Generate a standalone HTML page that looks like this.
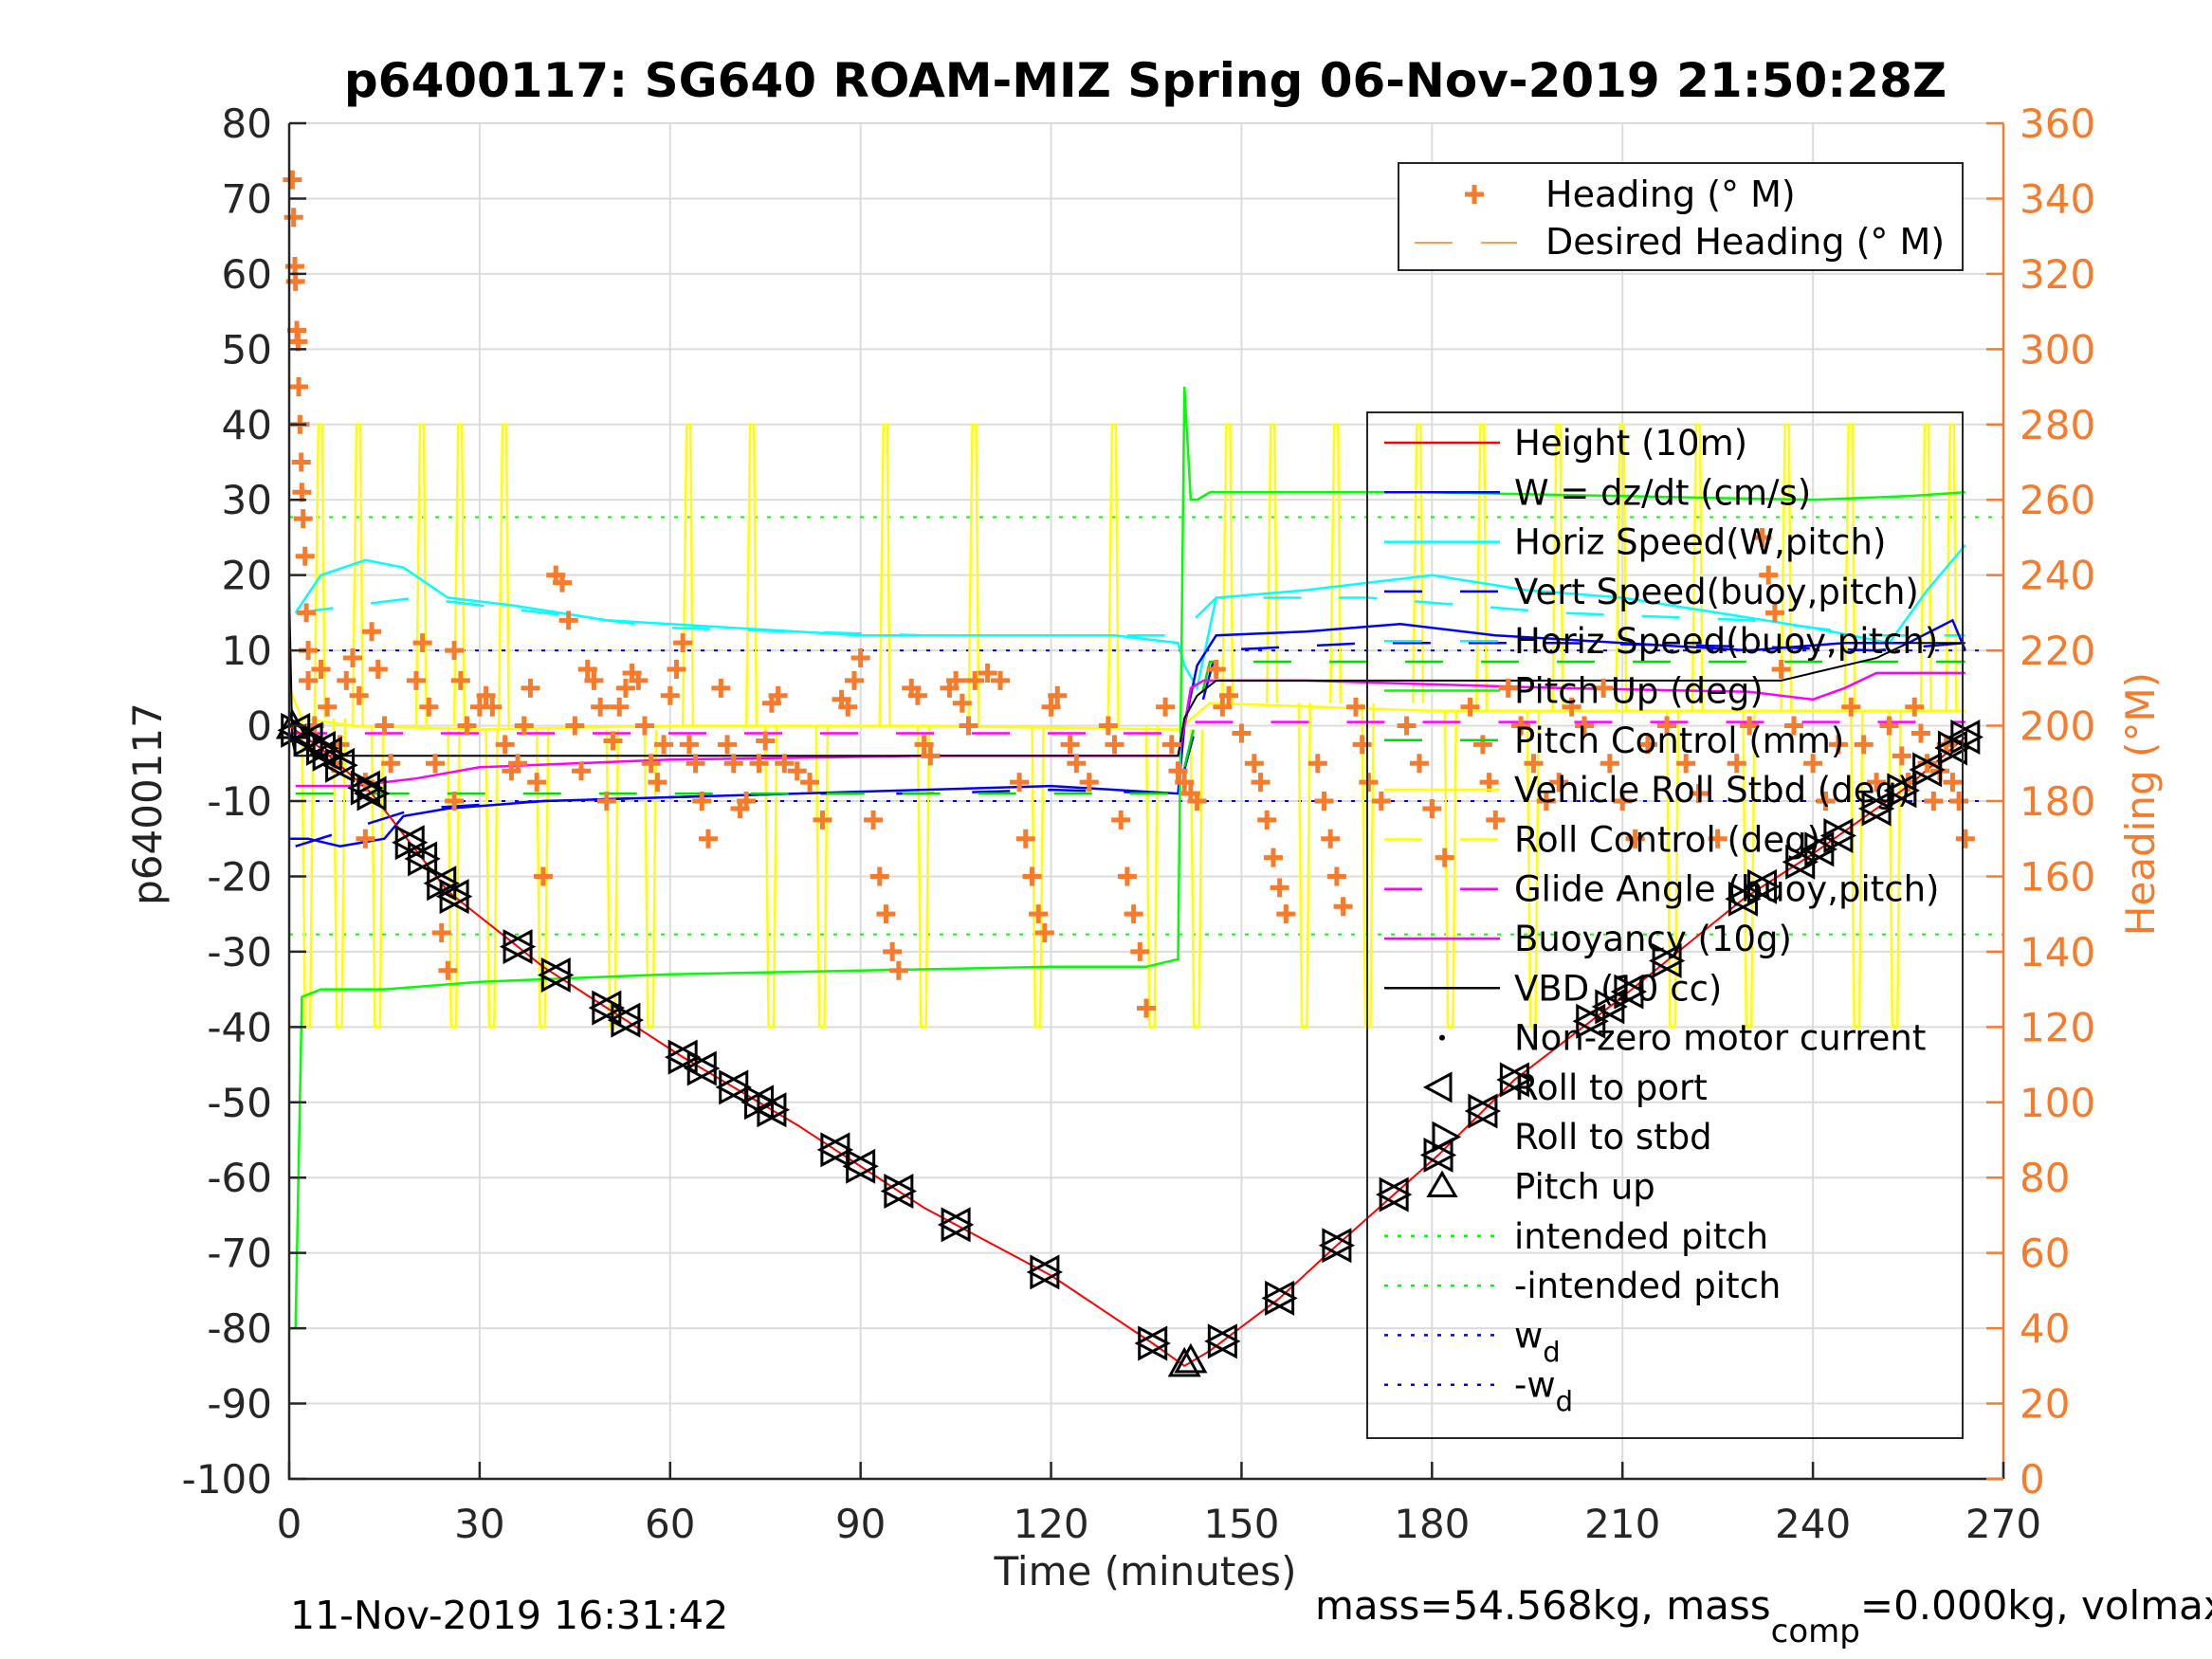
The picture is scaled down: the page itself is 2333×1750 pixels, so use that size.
<!DOCTYPE html>
<html><head><meta charset="utf-8"><style>
html,body{margin:0;padding:0;background:#fff;overflow:hidden;}
svg{display:block;font-family:"DejaVu Sans","Liberation Sans",sans-serif;}
</style></head><body>
<svg id="chart" width="2333" height="1750" viewBox="0 0 2333 1750" xmlns="http://www.w3.org/2000/svg">
<rect width="2333" height="1750" fill="#fff"/>
<g id="grid"></g>
<g id="plot"></g>
<g id="axes"></g>
<text x="1208" y="102" font-size="50" font-weight="bold" text-anchor="middle" fill="#000">p6400117: SG640 ROAM-MIZ Spring 06-Nov-2019 21:50:28Z</text>
<text x="0" y="0" font-size="42" text-anchor="middle" transform="translate(170,848) rotate(-90)" fill="#222">p6400117</text>
<text x="0" y="0" font-size="42" text-anchor="middle" transform="translate(2272,848) rotate(-90)" fill="#f77b2a">Heading (°M)</text>
<text x="1208" y="1672" font-size="42" text-anchor="middle" fill="#222">Time (minutes)</text>
<text x="306" y="1718" font-size="41" fill="#000">11-Nov-2019 16:31:42</text>
<text x="1387" y="1708" font-size="42" fill="#000">mass=54.568kg, mass<tspan dy="24" font-size="34">comp</tspan><tspan dy="-24">=0.000kg, volmax=52345cc</tspan></text>
<g id="legend1"></g>
<g id="legend2"></g>
</svg>
<script>
const NS="http://www.w3.org/2000/svg";
// ---- data ----
const xTicks=[0,30,60,90,120,150,180,210,240,270];
const yTicks=[80,70,60,50,40,30,20,10,0,-10,-20,-30,-40,-50,-60,-70,-80,-90,-100];
const rTicks=[360,340,320,300,280,260,240,220,200,180,160,140,120,100,80,60,40,20,0];
const heightT=[0,5,13,25,40,62,80,100,120,136,141,145,156,165,181,193,210,229,240,255,264];
const heightV=[0,-3,-9,-22,-32,-44,-53,-64,-73,-82,-85,-83,-76,-69,-57,-47,-36,-23,-17,-8,-1.5];
const markerT=[1,3,5,6,8,12,13,19,21,24,26,36,42,50,53,62,65,70,74,76,86,90,96,105,119,136,147,156,165,174,181,188,193,205,208,211,217,229,232,238,241,244,250,254,258,262,264];
const pitchUpT=[0.5,141,142];
const wT=[0,3,8,15,18,25,40,60,80,100,120,130,140,141,143,146,160,175,190,210,230,245,255,262,264];
const wV=[-15,-15,-16,-15,-12,-11,-10,-9.5,-9,-8.5,-8,-8.5,-9,0,8,12,12.5,13.5,12,11,10,11,11,14,10];
const hsT=[1,5,12,18,25,35,50,70,90,110,130,140,141,143,146,160,170,180,195,210,225,240,252,258,264];
const hsV=[15,20,22,21,17,16,14,13,12,12,12,11,8,5,17,18,19,20,18,17,15,13,11,18,24];
const vbT=[1,20,40,60,80,100,120,140,146,170,200,230,250,264];
const vbV=[-16,-11,-10,-9.5,-9,-9,-8.5,-9,10,11,11,10.5,10,11];
const hbT=[1,20,40,60,80,100,120,140,146,170,200,230,250,264];
const hbV=[15,17,15,13,12.5,12,12,12,17,17,15,14,12,12];
const pitchT=[1,2,5,15,30,60,90,120,135,140,141,142,143,145,150,180,210,240,255,264];
const pitchV=[-80,-36,-35,-35,-34,-33,-32.5,-32,-32,-31,45,30,30,31,31,31,30.5,30,30.5,31];
const pcT=[1,140,145,264];
const pcV=[-9,-9,8.5,8.5];
const rollT=[0,2,10,30,60,100,140,145,180,220,264];
const rollV=[5,1,0,-0.5,0,0,-0.5,3,2,2,2];
const spikeUpT=[5,11,21,27,34,63,73,94,108,130,148,155,165,178,188,200,210,222,236,246,258,262];
const spikeDnT=[3,8,14,26,32,40,51,57,76,84,100,118,136,143,160,170,183,196,218,230,247,253];
const glideT=[0,140,142,264];
const glideV=[-1,-1,0.5,0.5];
const buoyT=[1,10,15,20,30,45,60,100,140,141,142,144,160,200,230,240,245,250,264];
const buoyV=[-8,-8,-7.5,-7,-5.5,-5,-4.5,-4,-4,0,5,6,6,5,4.5,3.5,5,7,7];
const vbdT=[0,0.5,1,140,141,143,146,235,240,250,255,264];
const vbdV=[18,-2,-4,-4,1,4,6,6,7,9,11,11];
const headT=[0.5,0.7,0.9,1,1.2,1.4,1.5,1.7,1.9,2,2.2,2.5,2.7,3,3,4,5,6,7,8,9,10,11,12,12,13,14,15,16,20,21,22,23,24,25,26,26,27,28,30,31,32,34,35,36,37,38,39,40,42,43,44,45,46,47,48,49,50,51,52,53,54,55,56,57,58,59,60,61,62,63,64,65,66,68,69,70,71,72,74,75,76,77,78,80,82,84,87,88,89,90,92,93,94,95,96,98,99,100,101,104,105,106,107,108,110,112,115,116,117,118,119,120,121,123,124,126,129,130,131,132,133,134,135,138,139,140,141,142,143,146,147,148,150,152,153,154,155,156,157,162,163,164,165,166,168,169,170,172,176,178,180,182,186,188,189,190,192,194,196,198,200,202,204,207,208,210,212,214,217,220,222,225,228,230,232,233,234,235,237,240,242,244,246,248,250,252,254,255,256,257,258,259,260,261,262,263,264];
const headV=[345,335,322,318,305,302,290,280,270,262,255,245,230,220,212,200,215,205,190,195,212,218,208,185,170,225,215,200,190,212,222,205,190,145,135,180,220,212,200,205,208,205,195,188,190,200,210,185,160,240,238,228,200,188,215,212,205,180,196,205,210,214,212,200,190,185,195,208,215,222,195,190,180,170,210,195,190,178,180,190,196,206,208,190,188,185,175,207,205,212,218,175,160,150,140,135,210,208,195,192,210,212,206,200,212,214,212,185,170,160,150,145,205,208,195,190,185,200,195,175,160,150,140,125,205,195,188,185,182,180,215,205,208,198,190,185,175,165,157,150,190,180,170,160,152,205,195,185,180,200,190,178,165,205,195,185,175,210,200,190,180,185,205,200,210,190,180,170,195,200,190,182,170,190,200,250,240,230,215,200,190,180,195,205,195,185,200,192,185,205,198,190,180,188,195,185,180,170];
// ---- scales ----
const X0=305,X1=2113,Y0=130,Y1=1560;
const sx=t=>X0+t*(X1-X0)/270;
const sy=v=>Y0+(80-v)*(Y1-Y0)/180;
const sr=h=>Y0+(360-h)*(Y1-Y0)/360;
function mk(tag,attrs,parent){const e=document.createElementNS(NS,tag);for(const k in attrs)e.setAttribute(k,attrs[k]);parent.appendChild(e);return e;}
const grid=document.getElementById('grid'),plot=document.getElementById('plot'),axes=document.getElementById('axes');
xTicks.forEach(t=>{const l=mk('line',{x1:sx(t),x2:sx(t),y1:Y0,y2:Y1,stroke:'#dcdcdc','stroke-width':2},grid);
});
yTicks.forEach(v=>{const l=mk('line',{x1:X0,x2:X1,y1:sy(v),y2:sy(v),stroke:'#dcdcdc','stroke-width':2},grid);
});
function line(T,V,color,w,dash,name,f){const d=T.map((t,i)=>(i?'L':'M')+sx(t).toFixed(1)+','+(f||sy)(V[i]).toFixed(1)).join('');
const p=mk('path',{d:d,fill:'none',stroke:color,'stroke-width':w},plot);if(dash)p.setAttribute('stroke-dasharray',dash);
return p;}
[[27.7,'#00ff00','intended-pitch-line'],[-27.7,'#00ff00','neg-intended-pitch-line'],[10,'#0000ff','wd-line'],[-10,'#0000ff','neg-wd-line']].forEach(r=>{
const l=mk('line',{x1:X0,x2:X1,y1:sy(r[0]),y2:sy(r[0]),stroke:r[1],'stroke-width':2,'stroke-dasharray':'4 10'},plot);
});
function rollBase(t){let i=0;while(i<rollT.length-2&&rollT[i+1]<t)i++;return rollV[i];}
spikeUpT.forEach(t=>{const b=rollBase(t);const d=`M${sx(t-1)},${sy(b)}L${sx(t-0.4)},${sy(40)}L${sx(t+0.2)},${sy(40)}L${sx(t+0.6)},${sy(b)}`;
const p=mk('path',{d:d,fill:'none',stroke:'#ffff00','stroke-width':2.5},plot);});
spikeDnT.forEach(t=>{const b=rollBase(t);const d=`M${sx(t-1)},${sy(b)}L${sx(t-0.5)},${sy(-40)}L${sx(t+0.3)},${sy(-40)}L${sx(t+0.8)},${sy(b)}`;
const p=mk('path',{d:d,fill:'none',stroke:'#ffff00','stroke-width':2.5},plot);});
line(rollT,rollV,'#ffff00',2.5,null,'vehicle-roll-line');
line(hsT,hsV,'#00ffff',2.5,null,'horiz-speed-w-line');
line(hbT,hbV,'#00ffff',2.5,'40 40','horiz-speed-buoy-line');
line(vbT,vbV,'#0000ff',2.5,'40 40','vert-speed-buoy-line');
line(wT,wV,'#0000ff',2.5,null,'w-line');
line(pcT,pcV,'#00dd00',2.5,'40 40','pitch-control-line');
line(pitchT,pitchV,'#00ff00',2.5,null,'pitch-line');
line(glideT,glideV,'#ff00ff',2.5,'40 40','glide-angle-line');
line(buoyT,buoyV,'#ff00ff',2.5,null,'buoyancy-line');
line(vbdT,vbdV,'#000000',2,null,'vbd-line');
line(heightT,heightV,'#ff0000',2,null,'height-line');
headT.forEach((t,i)=>{const x=sx(t),y=sr(headV[i]);
const p=mk('path',{d:`M${x-10},${y}H${x+10}M${x},${y-10}V${y+10}`,stroke:'#f77b2a','stroke-width':5},plot);
});
function hAt(t){for(let i=0;i<heightT.length-1;i++){if(t<=heightT[i+1]){const f=(t-heightT[i])/(heightT[i+1]-heightT[i]);return heightV[i]+f*(heightV[i+1]-heightV[i]);}}return heightV[heightV.length-1];}
markerT.forEach(t=>{const x=sx(t),y=sy(hAt(t));
const p=mk('path',{d:`M${x+14},${y-16}L${x-16},${y}L${x+14},${y+16}ZM${x-14},${y-16}L${x+16},${y}L${x-14},${y+16}Z`,fill:'none',stroke:'#000','stroke-width':3},plot);
});
pitchUpT.forEach(t=>{const x=sx(t),y=sy(hAt(t));
const p=mk('path',{d:`M${x},${y-17}L${x-15},${y+10}L${x+15},${y+10}Z`,fill:'none',stroke:'#000','stroke-width':3},plot);
});
const ab=mk('path',{d:`M${X0},${Y0}V${Y1}H${X1}`,fill:'none',stroke:'#262626','stroke-width':2.5},axes);
const ar=mk('line',{x1:X1,x2:X1,y1:Y0,y2:Y1,stroke:'#f77b2a','stroke-width':2.5},axes);
xTicks.forEach(t=>{const l=mk('line',{x1:sx(t),x2:sx(t),y1:Y1,y2:Y1-18,stroke:'#262626','stroke-width':2.5},axes);
const tx=mk('text',{x:sx(t),y:Y1+62,'font-size':42,'text-anchor':'middle',fill:'#262626'},axes);tx.textContent=t;});
yTicks.forEach(v=>{const l=mk('line',{x1:X0,x2:X0+18,y1:sy(v),y2:sy(v),stroke:'#262626','stroke-width':2.5},axes);
const tx=mk('text',{x:287,y:sy(v)+15,'font-size':42,'text-anchor':'end',fill:'#262626'},axes);tx.textContent=v;});
rTicks.forEach(h=>{const l=mk('line',{x1:X1,x2:X1-18,y1:sr(h),y2:sr(h),stroke:'#f77b2a','stroke-width':2.5},axes);
const tx=mk('text',{x:2130,y:sr(h)+15,'font-size':42,'text-anchor':'start',fill:'#f77b2a'},axes);tx.textContent=h;});
const L1=document.getElementById('legend1');
const b1=mk('rect',{x:1475,y:172,width:595,height:113,fill:'#fff',stroke:'#262626','stroke-width':2},L1);
const hm=mk('path',{d:'M1545,205H1565M1555,195V215',stroke:'#f77b2a','stroke-width':5},L1);
const dh=mk('line',{x1:1492,x2:1600,y1:256,y2:256,stroke:'#f7a060','stroke-width':2,'stroke-dasharray':'40 30'},L1);
[['Heading (° M)',218],['Desired Heading (° M)',268]].forEach(a=>{const t=mk('text',{x:1630,y:a[1],'font-size':38,fill:'#000'},L1);t.textContent=a[0];});
const L2=document.getElementById('legend2');
const b2=mk('rect',{x:1442,y:435,width:628,height:1082,fill:'none',stroke:'#262626','stroke-width':2},L2);
const entries=[['Height (10m)','#ff0000',null],['W = dz/dt (cm/s)','#0000ff',null],['Horiz Speed(W,pitch)','#00ffff',null],['Vert Speed(buoy,pitch)','#0000ff','40 40'],['Horiz Speed(buoy,pitch)','#00ffff','40 40'],['Pitch Up (deg)','#00ff00',null],['Pitch Control (mm)','#00dd00','40 40'],['Vehicle Roll Stbd (deg)','#ffff00',null],['Roll Control (deg)','#ffff00','40 40'],['Glide Angle (buoy,pitch)','#ff00ff','40 40'],['Buoyancy (10g)','#ff00ff',null],['VBD (10 cc)','#000000',null],['Non-zero motor current','dot',null],['Roll to port','port',null],['Roll to stbd','stbd',null],['Pitch up','up',null],['intended pitch','#00ff00','4 10'],['-intended pitch','#00ff00','4 10'],['w','#0000ff','4 10'],['-w','#0000ff','4 10']];
entries.forEach((e,i)=>{const y=467+i*52.3;
if(e[1]==='dot'){const c=mk('circle',{cx:1521,cy:y,r:3,fill:'#000'},L2);}
else if(e[1]==='port'){const p=mk('path',{d:`M1530,${y-14}L1504,${y}L1530,${y+14}Z`,fill:'none',stroke:'#000','stroke-width':3},L2);}
else if(e[1]==='stbd'){const p=mk('path',{d:`M1512,${y-14}L1538,${y}L1512,${y+14}Z`,fill:'none',stroke:'#000','stroke-width':3},L2);}
else if(e[1]==='up'){const p=mk('path',{d:`M1521,${y-14}L1507,${y+10}L1535,${y+10}Z`,fill:'none',stroke:'#000','stroke-width':3},L2);}
else{const l=mk('line',{x1:1460,x2:1582,y1:y,y2:y,stroke:e[1],'stroke-width':2.5},L2);if(e[2])l.setAttribute('stroke-dasharray',e[2]);}
const t=mk('text',{x:1597,y:y+13,'font-size':37,fill:'#000'},L2);t.textContent=e[0];
if(i>=18){const s=mk('tspan',{dy:15,'font-size':29},t);s.textContent='d';}
});
</script>
</body></html>
